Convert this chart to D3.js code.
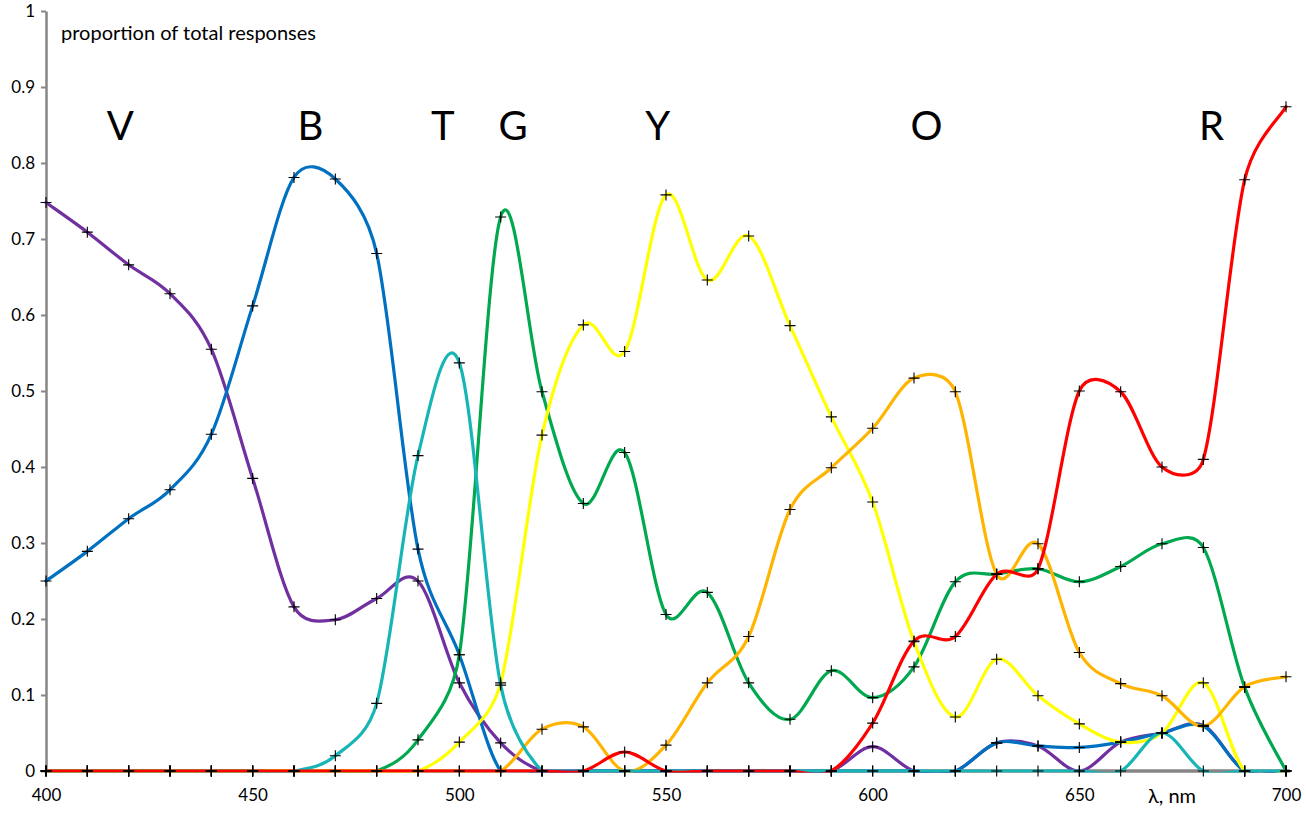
<!DOCTYPE html>
<html>
<head>
<meta charset="utf-8">
<script src="https://cdn.jsdelivr.net/npm/d3@7"></script>
<style>
  html, body { margin: 0; padding: 0; background: #fff; }
  svg { display: block; font-family: Lato, "Open Sans", sans-serif; }
</style>
</head>
<body>
<svg id="chart" width="1306" height="817"></svg>
<script>
// ---------- data ----------
const wavelengths = [400,410,420,430,440,450,460,470,480,490,500,510,520,530,540,550,560,570,580,590,600,610,620,630,640,650,660,670,680,690,700];

const violet = [0.748,0.709,0.666,0.628,0.555,0.385,0.216,0.199,0.227,0.25,0.116,0.037,0,0,0,0,0,0,0,0,0.032,0,0,0.037,0.033,0,0.038,0.05,0.06,0,0];
const blue   = [0.25,0.289,0.332,0.37,0.443,0.612,0.781,0.779,0.681,0.292,0.153,0,0,0,0,0,0,0,0,0,0,0,0,0.037,0.033,0.031,0.038,0.05,0.059,0,0];
const green  = [0,0,0,0,0,0,0,0,0,0.041,0.153,0.729,0.499,0.352,0.419,0.206,0.235,0.116,0.068,0.132,0.0965,0.137,0.249,0.259,0.266,0.249,0.269,0.299,0.294,0.11,0];
const yellow = [0,0,0,0,0,0,0,0,0,0,0.038,0.116,0.442,0.587,0.552,0.758,0.646,0.704,0.586,0.466,0.354,0.17,0.071,0.147,0.099,0.062,0.038,0.05,0.116,0,0];
const orange = [0,0,0,0,0,0,0,0,0,0,0,0,0.055,0.058,0,0.034,0.116,0.177,0.344,0.399,0.451,0.517,0.499,0.259,0.299,0.156,0.115,0.099,0.059,0.111,0.124];
const cyan   = [0,0,0,0,0,0,0,0.02,0.089,0.415,0.537,0.113,0,0,0,0,0,0,0,0,0,0,0,0,0,0,0,0.05,0,0,0];
const red    = [0,0,0,0,0,0,0,0,0,0,0,0,0,0,0.025,0,0,0,0,0,0.063,0.171,0.177,0.259,0.266,0.5,0.499,0.4,0.41,0.778,0.874];

const seriesNames  = ["violet","blue","green","yellow","orange","cyan","red"];
const seriesValues = [violet, blue, green, yellow, orange, cyan, red];
const seriesColors = ["#7030A0","#0070C0","#00A84F","#FFFF00","#FFB400","#17B5B5","#FF0000"];

const yTicks = [0,0.1,0.2,0.3,0.4,0.5,0.6,0.7,0.8,0.9,1];
const yTickLabels = ["0","0.1","0.2","0.3","0.4","0.5","0.6","0.7","0.8","0.9","1"];
const xTicks = [400,450,500,550,600,650,700];
const xTickLabels = ["400","450","500","550","600","650","700"];

const colorLetters = ["V","B","T","G","Y","O","R"];
const letterWavelengths = [418,464,496,513,548,613,682];
const letterLevel = 0.83;

const yTitle = "proportion of total responses";
const xTitle = "λ, nm";

// ---------- Excel-style smoothed curve (Catmull-Rom with control length limited to half segment) ----------
function ExcelCurve(context) { this._context = context; }
ExcelCurve.prototype = {
  areaStart() { this._line = 0; },
  areaEnd() { this._line = NaN; },
  lineStart() { this._pts = []; },
  point(px, py) { this._pts.push([+px, +py]); },
  lineEnd() {
    const p = this._pts, n = p.length, c = this._context;
    if (!n) return;
    c.moveTo(p[0][0], p[0][1]);
    if (n === 1) return;
    const dist = (a, b) => Math.hypot(b[0] - a[0], b[1] - a[1]);
    for (let i = 0; i < n - 1; i++) {
      const p0 = p[i - 1] || p[i], p1 = p[i], p2 = p[i + 1], p3 = p[i + 2] || p[i + 1];
      const d12 = dist(p1, p2), d02 = dist(p0, p2), d13 = dist(p1, p3);
      let f1 = 1 / 6, f2 = 1 / 6;
      if (d02 / 6 >= d12 / 2 && d02 > 0) f1 = (d12 / 2) / d02;
      if (d13 / 6 >= d12 / 2 && d13 > 0) f2 = (d12 / 2) / d13;
      const c1x = p1[0] + f1 * (p2[0] - p0[0]), c1y = p1[1] + f1 * (p2[1] - p0[1]);
      const c2x = p2[0] - f2 * (p3[0] - p1[0]), c2y = p2[1] - f2 * (p3[1] - p1[1]);
      c.bezierCurveTo(c1x, c1y, c2x, c2y, p2[0], p2[1]);
    }
  }
};
const curveExcel = context => new ExcelCurve(context);

// ---------- chart ----------
const svg = d3.select("#chart");
const x = d3.scaleLinear().domain([400,700]).range([46,1286]);
const y = d3.scaleLinear().domain([0,1]).range([771,11]);

// axes
const yAxis = d3.axisLeft(y).tickValues(yTicks)
  .tickFormat((d,i) => yTickLabels[i]).tickSizeInner(5).tickSizeOuter(0).tickPadding(6);
const gy = svg.append("g").attr("transform", `translate(${x(400)},0)`).call(yAxis);
gy.select(".domain").attr("stroke","#868686").attr("stroke-width",2.5);
gy.selectAll(".tick line").attr("stroke","#868686").attr("stroke-width",2);
gy.selectAll(".tick text").attr("font-size",17).attr("fill","#000").attr("font-family","Lato, sans-serif");

const xAxis = d3.axisBottom(x).tickValues(xTicks)
  .tickFormat((d,i) => xTickLabels[i]).tickSizeInner(0).tickSizeOuter(0).tickPadding(18);
const gx = svg.append("g").attr("transform", `translate(0,${y(0)})`).call(xAxis);
gx.select(".domain").attr("stroke","#868686").attr("stroke-width",3.5)
  .attr("d", `M${x(400)},0H${x(700)+4}`);
gx.selectAll(".tick text").attr("font-size",17).attr("fill","#000").attr("font-family","Lato, sans-serif");

// clip so smoothing overshoot below zero is hidden
svg.append("clipPath").attr("id","plotclip").append("rect")
  .attr("x", x(400)-2).attr("y", 0).attr("width", x(700)-x(400)+10).attr("height", y(0)+1.6);

const line = d3.line()
  .x((d,i) => x(wavelengths[i]))
  .y(d => y(d))
  .curve(curveExcel);

const gl = svg.append("g").attr("clip-path","url(#plotclip)");
seriesValues.forEach((vals, k) => {
  gl.append("path")
    .attr("d", line(vals))
    .attr("fill","none")
    .attr("stroke", seriesColors[k])
    .attr("stroke-width", 3.2)
    .attr("stroke-linejoin","round")
    .attr("stroke-linecap","round");
});

// markers
const gm = svg.append("g");
seriesValues.forEach((vals) => {
  vals.forEach((v,i) => {
    gm.append("path")
      .attr("transform", `translate(${x(wavelengths[i])},${y(v)})`)
      .attr("d","M-5.5,0H5.5M0,-5.5V5.5")
      .attr("stroke","#000").attr("stroke-width",1.1).attr("fill","none");
  });
});

// color letters
svg.append("g").selectAll("text").data(colorLetters).join("text")
  .attr("x", (d,i) => x(letterWavelengths[i]))
  .attr("y", y(letterLevel))
  .attr("text-anchor","middle")
  .attr("font-size", 40)
  .attr("fill","#000")
  .text(d => d);

// titles
svg.append("text").attr("x", 61).attr("y", 40).attr("font-size", 20).attr("fill","#000").text(yTitle);
svg.append("text").attr("x", 1172).attr("y", 803).attr("text-anchor","middle").attr("font-size", 20).attr("fill","#000").text(xTitle);
</script>
</body>
</html>
